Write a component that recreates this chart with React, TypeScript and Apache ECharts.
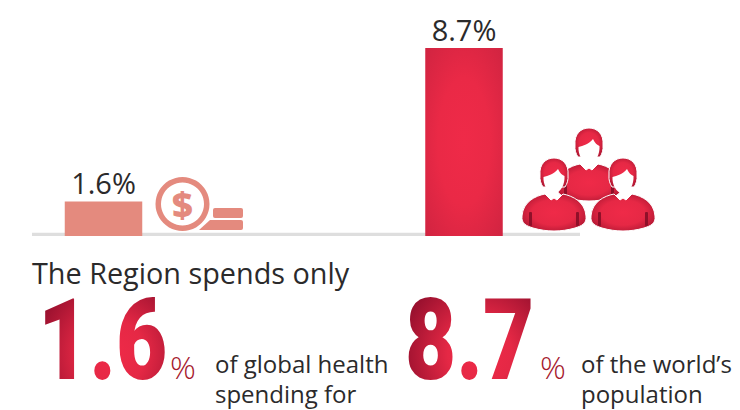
import React, { useEffect, useRef } from "react";
import * as echarts from "echarts";

// Share of world totals held by the Region
const categories = ["Global health spending", "World population"];
const shareValues = [1.6, 8.7];
const barColors = ["#e48a7e", "red"];
const headline = "The Region spends only";
const bigNumbers = ["1.6", "8.7"];
const spendingLines = ["of global health", "spending for"];
const populationLines = ["of the world\u2019s", "population"];

const SANS = "'Open Sans', 'Noto Sans', sans-serif";
const INK = "#2b2a2b";

const brightRed = () =>
  new echarts.graphic.RadialGradient(0.5, 0.5, 0.75, [
    { offset: 0, color: "#ef2a48" },
    { offset: 0.45, color: "#ea2946" },
    { offset: 1, color: "#cd2340" },
  ]);
const personRed = () =>
  new echarts.graphic.RadialGradient(0.5, 0.5, 0.62, [
    { offset: 0, color: "#ef2a48" },
    { offset: 0.55, color: "#e62845" },
    { offset: 1, color: "#a81530" },
  ]);

// Icon outlines, drawn around a person's head centre
echarts.graphic.registerShape(
  "personHair",
  echarts.graphic.extendPath(
    "M-14,-2 C-15,-13 -8,-19 0,-19 C8,-19 15,-13 14,-2 C14.5,3 13,7 11,10 L-11,10 C-13,7 -14.5,3 -14,-2 Z",
    {}
  )
);
echarts.graphic.registerShape(
  "personFace",
  echarts.graphic.extendPath(
    "M-10.5,0 C-6,-1 0,-3 4,-8 C6,-4 8,-2 10.5,-1 C11,7 7,16 0,16.5 C-7,16 -11,7 -10.5,0 Z",
    {}
  )
);
echarts.graphic.registerShape(
  "personBody",
  echarts.graphic.extendPath(
    "M-9,17 L-3,23 L0,21 L3,23 L9,17 C19,19 31,25 32,39 C33,47 27,49 21,51 C7,55 -7,55 -21,51 C-27,49 -33,47 -32,39 C-31,25 -19,19 -9,17 Z",
    {}
  )
);
echarts.graphic.registerShape(
  "coinStackBase",
  echarts.graphic.extendPath("M11,0 L42,0 Q44,0 44,2 L44,8 Q44,10 42,10 L0,10 Z", {})
);

function person(x: number, y: number) {
  const slit = (sx: number) => ({
    type: "rect",
    shape: { x: sx, y: 35, width: 3, height: 14, r: 1 },
    style: { fill: "#8f1029" },
  });
  return {
    type: "group",
    x,
    y,
    children: [
      {
        type: "personBody",
        style: { fill: personRed(), stroke: "#ffffff", lineWidth: 1 },
      },
      slit(-25),
      slit(22),
      {
        type: "personHair",
        style: { fill: personRed(), stroke: "#ffffff", lineWidth: 1 },
      },
      { type: "personFace", style: { fill: "#ffffff" } },
    ],
  };
}

function copy(text: string, x: number, y: number, size: number, fill = INK, weight = 400) {
  return {
    type: "text",
    x,
    y,
    style: {
      text,
      fill,
      font: `${weight} ${size}px ${SANS}`,
      align: "left",
      verticalAlign: "bottom",
    },
  };
}

function bigNumber(text: string, x: number) {
  return {
    type: "text",
    x,
    y: 283,
    scaleX: 0.775,
    style: {
      text,
      fill: "#d9213f",
      font: `900 114px Roboto, sans-serif`,
      align: "left",
      verticalAlign: "top",
    },
  };
}

// The library's text style drops gradients, so the large numerals get theirs
// on the finished SVG nodes.
function shadeBigNumbers(root: HTMLElement) {
  const svg = root.querySelector("svg");
  if (!svg) return;
  const NS = "http://www.w3.org/2000/svg";
  const gradient = document.createElementNS(NS, "radialGradient");
  gradient.setAttribute("id", "bigNumberFill");
  gradient.setAttribute("cx", "0.58");
  gradient.setAttribute("cy", "0.6");
  gradient.setAttribute("r", "0.62");
  [
    ["0", "#ef2a48"],
    ["0.4", "#e52845"],
    ["1", "#98102e"],
  ].forEach(([offset, color]) => {
    const stop = document.createElementNS(NS, "stop");
    stop.setAttribute("offset", offset);
    stop.setAttribute("stop-color", color);
    gradient.appendChild(stop);
  });
  const defs = svg.querySelector("defs") ?? svg.insertBefore(document.createElementNS(NS, "defs"), svg.firstChild);
  defs.appendChild(gradient);
  svg.querySelectorAll("text").forEach((node) => {
    if (bigNumbers.includes(node.textContent ?? "")) {
      node.setAttribute("style", `${node.getAttribute("style") ?? ""};fill:url(#bigNumberFill)`);
    }
  });
}

export default function App() {
  const ref = useRef<HTMLDivElement>(null);

  useEffect(() => {
    const chart = echarts.init(ref.current!, undefined, { renderer: "svg" });
    chart.setOption({
      animation: false,
      backgroundColor: "#ffffff",
      grid: { left: -76.75, width: 721, top: 20, height: 216, outerBoundsMode: "none" },
      xAxis: {
        type: "category",
        data: categories,
        axisLine: { show: false },
        axisTick: { show: false },
        axisLabel: { show: false },
      },
      yAxis: { type: "value", min: 0, max: 10, show: false },
      series: [
        {
          type: "bar",
          z: 3,
          barWidth: 77.5,
          data: shareValues.map((value, i) => ({
            value,
            itemStyle: { color: i === 0 ? barColors[0] : brightRed() },
          })),
          label: {
            show: true,
            position: "top",
            distance: 4,
            formatter: "{c}%",
            color: INK,
            fontFamily: SANS,
            fontSize: 29,
          },
        },
      ],
      graphic: {
        elements: [
          // Baseline under the bars
          {
            type: "rect",
            z: 1,
            shape: { x: 32, y: 232.7, width: 548, height: 3.3 },
            style: { fill: "#dedede" },
          },
          // Coin icon
          {
            type: "group",
            z: 4,
            children: [
              {
                type: "rect",
                shape: { x: 213, y: 208, width: 30, height: 10, r: 2 },
                style: { fill: barColors[0] },
              },
              {
                type: "coinStackBase",
                x: 199,
                y: 220,
                style: { fill: barColors[0] },
              },
              {
                type: "circle",
                shape: { cx: 182.5, cy: 204, r: 29.5 },
                style: { fill: "#ffffff" },
              },
              {
                type: "ring",
                shape: { cx: 182.5, cy: 204, r: 27, r0: 21.5 },
                style: { fill: barColors[0] },
              },
              {
                type: "text",
                x: 182.5,
                y: 204,
                style: {
                  text: "$",
                  fill: barColors[0],
                  font: "800 36px 'Open Sans', sans-serif",
                  align: "center",
                  verticalAlign: "middle",
                },
              },
            ],
          },
          // People icon
          {
            type: "group",
            z: 4,
            children: [person(589, 147), person(554, 177), person(623, 177)],
          },
          // Caption
          copy(headline, 32, 287, 28.8),
          bigNumber(bigNumbers[0], 38),
          copy("%", 170, 382, 32, "#a6192e", 300),
          copy(spendingLines[0], 215, 375, 24),
          copy(spendingLines[1], 215, 405.5, 24),
          bigNumber(bigNumbers[1], 405),
          copy("%", 540, 382, 32, "#a6192e", 300),
          copy(populationLines[0], 581, 375, 24),
          copy(populationLines[1], 581, 405.5, 24),
        ],
      },
    });
    shadeBigNumbers(ref.current!);
    return () => chart.dispose();
  }, []);

  return (
    <div
      ref={ref}
      style={{ position: "absolute", left: 0, top: 0, width: 740, height: 410 }}
    />
  );
}
